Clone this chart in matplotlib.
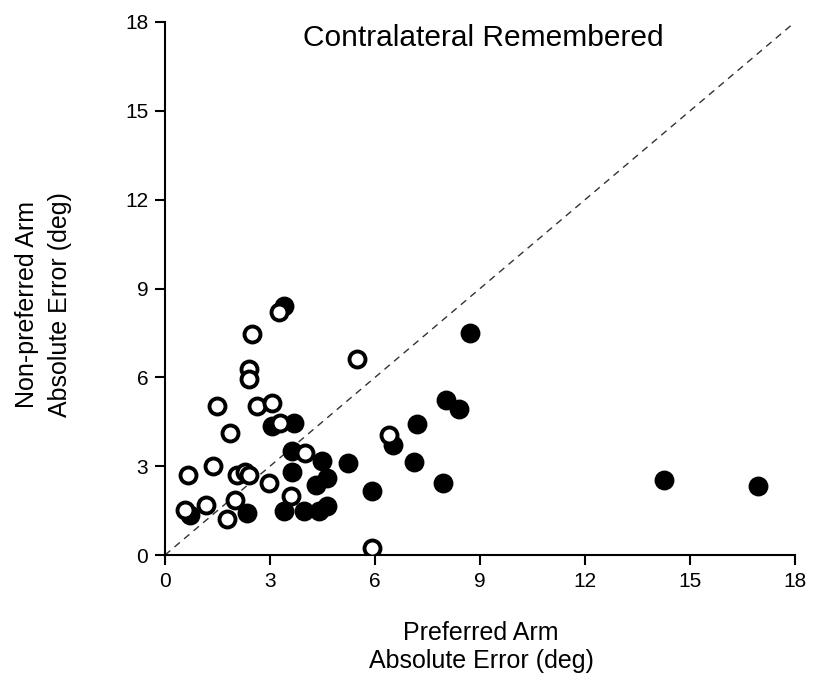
import matplotlib
matplotlib.use("Agg")
import matplotlib.pyplot as plt

plt.rcParams['font.family'] = ['Liberation Sans', 'DejaVu Sans']

# Open circles: preferred-arm error (x) vs non-preferred-arm error (y)
open_x = [3.25, 2.48, 5.49, 2.39, 2.39, 1.48, 2.64, 3.06, 1.86, 3.28,
          0.67, 1.38, 2.05, 2.29, 2.39, 2.96, 4.01, 2.0, 3.6, 0.57, 1.17,
          1.77, 5.92, 6.4]
open_y = [8.21, 7.46, 6.63, 6.27, 5.95, 5.03, 5.03, 5.14, 4.12, 4.47,
          2.71, 3.02, 2.71, 2.82, 2.71, 2.43, 3.45, 1.86, 1.98, 1.53, 1.7,
          1.21, 0.23, 4.05]

# Filled circles
filled_x = [3.39, 0.72, 2.34, 3.39, 3.96, 4.39, 4.63, 4.3, 3.63, 3.63, 4.49,
            4.63, 5.22, 5.92, 7.21, 7.12, 7.93, 8.02, 8.4, 8.72, 6.5, 3.06,
            3.68, 14.26, 16.95]
filled_y = [8.42, 1.36, 1.43, 1.47, 1.47, 1.47, 1.64, 2.37, 2.82, 3.5, 3.16,
            2.6, 3.11, 2.15, 4.41, 3.13, 2.43, 5.22, 4.94, 7.51, 3.73, 4.35,
            4.47, 2.54, 2.32]

ticks = [0, 3, 6, 9, 12, 15, 18]

fig = plt.figure(figsize=(8.18, 6.79), dpi=100)
ax = fig.add_axes([0.2017, 0.1826, 0.7703, 0.785])

ax.plot([0, 18], [0, 18], linestyle=(0, (5, 4)), color='#333333', lw=1.0, zorder=1)

ms = 11.5
ax.plot(filled_x, filled_y, 'o', ms=ms, mfc='black', mec='black', mew=2.8,
        linestyle='none', zorder=2)
ax.plot(open_x, open_y, 'o', ms=ms, mfc='white', mec='black', mew=2.8,
        linestyle='none', zorder=3)

ax.set_xlim(0, 18)
ax.set_ylim(0, 18)
ax.set_xticks(ticks)
ax.set_yticks(ticks)
ax.set_xticklabels([str(t) for t in ticks])
ax.set_yticklabels([str(t) for t in ticks])
for s in ['top', 'right']:
    ax.spines[s].set_visible(False)
for s in ['left', 'bottom']:
    ax.spines[s].set_linewidth(1.5)
ax.tick_params(direction='out', length=7, width=1.5, labelsize=15, pad=5)

ax.text(0.505, 0.97, 'Contralateral Remembered', transform=ax.transAxes,
        ha='center', va='center', fontsize=21.5)

fig.text(481 / 818, 1 - 647 / 679, 'Preferred Arm\nAbsolute Error (deg)',
         ha='center', va='center', fontsize=18, linespacing=1.25,
         multialignment='center')
fig.text(43.5 / 818, 1 - 305 / 679, 'Non-preferred Arm\nAbsolute Error (deg)',
         ha='center', va='center', fontsize=18, linespacing=1.45,
         rotation=90, multialignment='center')

fig.savefig('out.png', dpi=100)
